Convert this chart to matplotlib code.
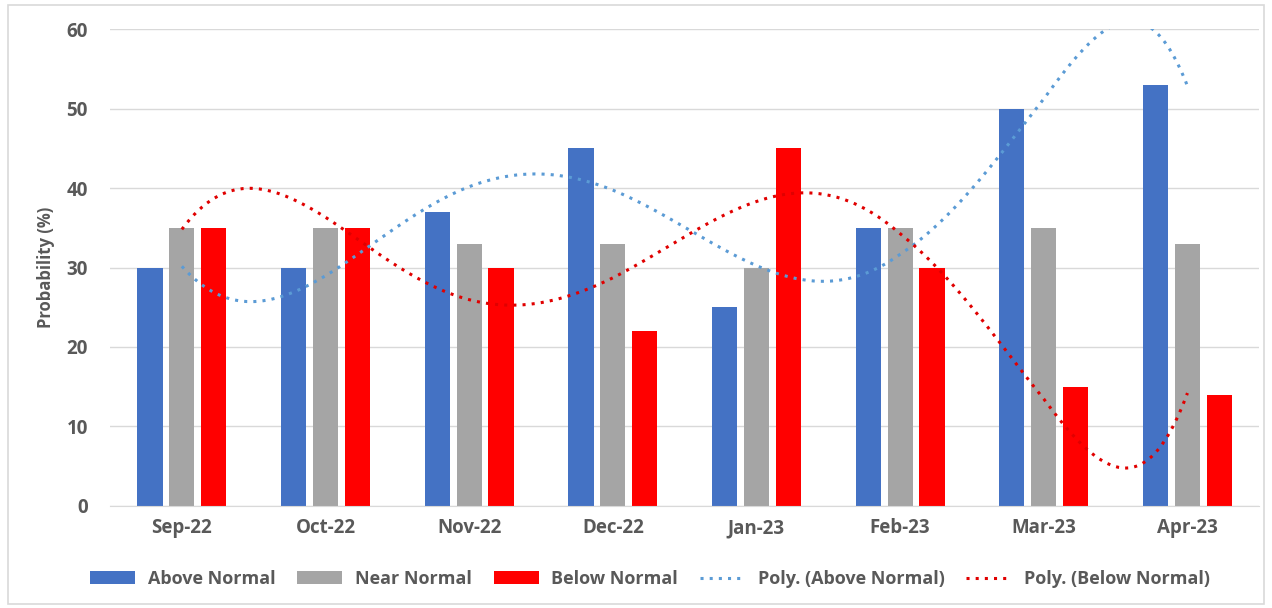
import numpy as np
import matplotlib
matplotlib.use('Agg')
from matplotlib import pyplot as plt
from matplotlib.patches import Rectangle

months = ['Sep-22', 'Oct-22', 'Nov-22', 'Dec-22', 'Jan-23', 'Feb-23', 'Mar-23', 'Apr-23']
days_in_month = [30, 31, 30, 31, 31, 28, 31, 30]
above = [30, 30, 37, 45, 25, 35, 50, 53]
near = [35, 35, 33, 33, 30, 35, 35, 33]
below = [35, 35, 30, 22, 45, 30, 15, 14]

plt.rcParams['font.family'] = ['Open Sans', 'DejaVu Sans']
grey = '#595959'

fig = plt.figure(figsize=(12.72, 6.08), dpi=100)
ax = fig.add_axes([0.0865, 0.168, 0.9035, 0.784])
fig.patches.append(Rectangle((0.006, 0.006), 0.988, 0.985, transform=fig.transFigure,
                             fill=False, edgecolor='#d9d9d9', linewidth=1.2))

x = np.arange(1, len(months) + 1)
w = 0.175
step = 0.222
b1 = ax.bar(x - step, above, w, color='#4472c4', label='Above Normal', zorder=2)
b2 = ax.bar(x, near, w, color='#a5a5a5', label='Near Normal', zorder=2)
b3 = ax.bar(x + step, below, w, color='#ff0000', label='Below Normal', zorder=2)

# Excel-style polynomial trendlines (order 6), fitted on the date serials
day = np.concatenate([[0], np.cumsum(days_in_month[:-1])]).astype(float)
dd = np.linspace(day[0], day[-1], 500)
xs = np.interp(dd, day, x)
pa = np.polyval(np.polyfit(day, above, 6), dd)
pb = np.polyval(np.polyfit(day, below, 6), dd)
l1, = ax.plot(xs, pa, color='#5b9bd5', linestyle=(0, (1, 2)), linewidth=2.2,
              label='Poly. (Above Normal)', zorder=3)
l2, = ax.plot(xs, pb, color='#e00000', linestyle=(0, (1, 2)), linewidth=2.2,
              label='Poly. (Below Normal)', zorder=3)

ax.set_xlim(0.5, len(months) + 0.5)
ax.set_ylim(0, 60)
ax.set_yticks(range(0, 61, 10))
ax.set_xticks(x)
ax.set_xticklabels(months)
ax.grid(axis='y', color='#d9d9d9', linewidth=1, zorder=0)
for s in ['top', 'right', 'left']:
    ax.spines[s].set_visible(False)
ax.spines['bottom'].set_color('#d9d9d9')
ax.tick_params(length=0, labelsize=13.5, colors=grey, pad=9)
for lab in ax.get_xticklabels() + ax.get_yticklabels():
    lab.set_fontweight('bold')
ax.tick_params(axis='y', pad=16)
ax.set_ylabel('Probability (%)', fontsize=12, color=grey, fontweight='bold', labelpad=8)

leg = fig.legend(handles=[b1, b2, b3, l1, l2], loc='center', bbox_to_anchor=(0.511, 0.048),
                 ncol=5, frameon=False, fontsize=13, handlelength=2.5, handleheight=0.65,
                 columnspacing=1.2, handletextpad=0.7)
for t in leg.get_texts():
    t.set_color(grey)
    t.set_fontweight('bold')

fig.savefig('out.png', dpi=100)
